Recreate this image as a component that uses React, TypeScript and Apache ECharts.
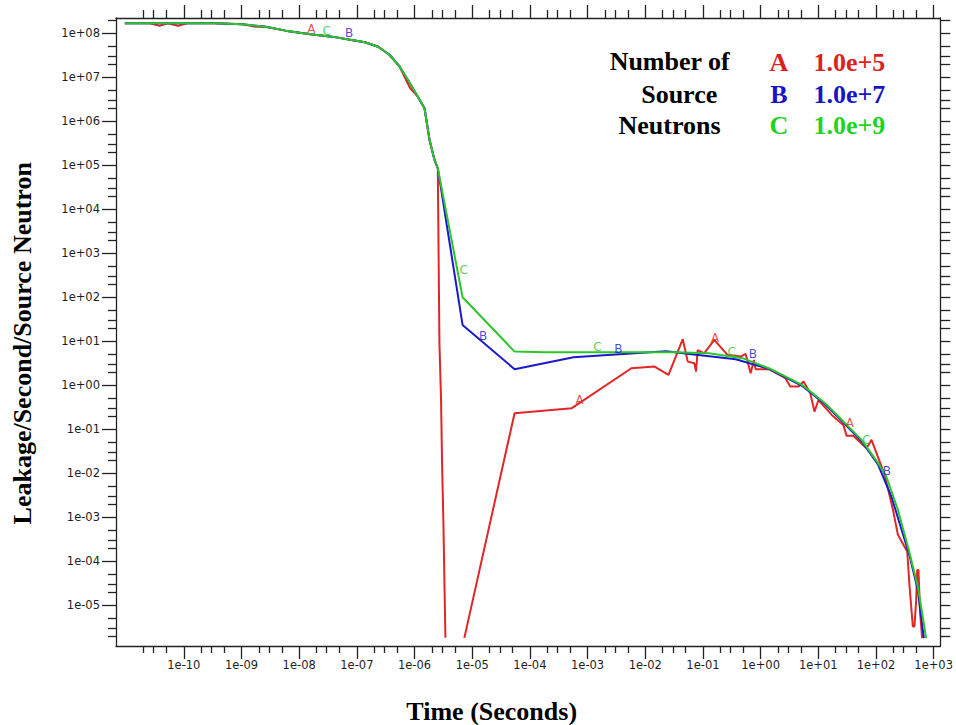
import React, { useEffect, useRef } from "react";
import * as echarts from "echarts";

// ---- axis ranges (log10 of the values) and ticks ----
const X_LOG_MIN = -11.176;
const X_LOG_MAX = 3.115;
const Y_LOG_MIN = -5.93;
const Y_LOG_MAX = 8.348;
const xMajorTicks = [-10, -9, -8, -7, -6, -5, -4, -3, -2, -1, 0, 1, 2, 3];
const yMajorTicks = [-5, -4, -3, -2, -1, 0, 1, 2, 3, 4, 5, 6, 7, 8];
const minorMultipliers = [2, 3, 5];

// ---- data: [time (s), leakage / s / source neutron]; null = gap ----
const curveA: ([number, number] | null)[] = [
  [9.5e-12, 1.69e8], [2.57e-11, 1.69e8], [3.82e-11, 1.49e8], [5.24e-11, 1.69e8],
  [7.88e-11, 1.49e8], [1.16e-10, 1.69e8], [3.38e-10, 1.69e8], [1.04e-9, 1.6e8],
  [1.77e-9, 1.41e8], [2.62e-9, 1.41e8], [5.8e-9, 1.15e8], [1.56e-8, 9.5e7],
  [3.68e-8, 8.4e7], [8.13e-8, 7.05e7], [1.38e-7, 6.24e7], [2.34e-7, 4.95e7],
  [3.72e-7, 3.21e7], [5.53e-7, 1.74e7], [8.34e-7, 5.71e6], [1.14e-6, 3.62e6],
  [1.49e-6, 1.97e6], [1.82e-6, 3.76e5], [2.22e-6, 1.32e5], [2.53e-6, 8.55e4],
  [2.58e-6, 5.1e3], [2.7e-6, 9.1], [2.88e-6, 0.46], [3.0e-6, 0.017],
  [3.17e-6, 6.7e-4], [3.3e-6, 2.9e-5], [3.43e-6, 1.8e-6], null,
  [7.3e-6, 1.8e-6], [5.42e-5, 0.231], [5.33e-4, 0.3], [5.75e-3, 2.43],
  [0.0145, 2.65], [0.0253, 1.71], [0.0447, 11.1], [0.0545, 3.43],
  [0.0708, 3.16], [0.0759, 2.04], [0.081, 6.3], [0.105, 5.3],
  [0.157, 10.7], [0.266, 4.9], [0.451, 4.47], [0.55, 5.14],
  [0.671, 1.87], [0.766, 3.76], [0.818, 2.31], [1.39, 2.31],
  [2.69, 1.44], [3.27, 0.93], [4.55, 0.93], [5.55, 1.21],
  [7.24, 0.66], [8.59, 0.251], [10.07, 0.46], [17.1, 0.211],
  [27.1, 0.125], [31, 0.0705], [40.3, 0.0705], [68.5, 0.037],
  [83.6, 0.0571], [141.6, 9.14e-3], [197, 1.47e-3], [240, 3.96e-4],
  [348, 1.65e-4], [382, 2.65e-5], [435, 3.27e-6], [464, 3.27e-6],
  [498, 1.32e-5], [518, 6.3e-5], [545, 6.3e-5], [583, 6.6e-6], [631, 1.78e-6],
];

const curveB: [number, number][] = [
  [9.5e-12, 1.69e8], [3.38e-10, 1.69e8], [1.04e-9, 1.6e8], [2.62e-9, 1.41e8],
  [5.8e-9, 1.15e8], [1.56e-8, 9.5e7], [3.68e-8, 8.4e7], [8.13e-8, 7.05e7],
  [1.38e-7, 6.24e7], [2.34e-7, 4.95e7], [3.72e-7, 3.21e7], [5.53e-7, 1.74e7],
  [7.69e-7, 8.69e6], [1.14e-6, 3.62e6], [1.49e-6, 1.97e6], [1.82e-6, 3.76e5],
  [2.22e-6, 1.32e5], [2.53e-6, 8.55e4], [6.8e-6, 23.4], [5.42e-5, 2.31],
  [5.7e-4, 4.33], [4.14e-3, 5.14], [0.0231, 5.93], [0.0759, 4.89],
  [0.37, 3.9], [1.39, 2.35], [5.21, 0.97], [13.1, 0.37],
  [25.5, 0.155], [56.2, 0.053], [109, 0.0155], [185, 2.94e-3],
  [382, 1.32e-4], [530, 2.23e-5], [676, 1.78e-6],
];

const curveC: [number, number][] = [
  [9.5e-12, 1.69e8], [3.38e-10, 1.69e8], [1.04e-9, 1.6e8], [2.62e-9, 1.41e8],
  [5.8e-9, 1.15e8], [1.56e-8, 9.5e7], [3.68e-8, 8.4e7], [8.13e-8, 7.05e7],
  [1.38e-7, 6.24e7], [2.34e-7, 4.95e7], [3.72e-7, 3.21e7], [5.53e-7, 1.74e7],
  [7.69e-7, 8.69e6], [1.14e-6, 3.62e6], [1.49e-6, 1.97e6], [1.82e-6, 3.76e5],
  [2.22e-6, 1.32e5], [2.53e-6, 8.55e4], [6.8e-6, 100], [5.42e-5, 5.8],
  [1.74e-4, 5.62], [0.0343, 5.62], [0.128, 5.33], [0.483, 4.11],
  [1.39, 2.43], [5.21, 1.02], [13.1, 0.39], [25.5, 0.163],
  [56.2, 0.057], [109, 0.0169], [151, 8.4e-3], [240, 1.47e-3],
  [382, 1.52e-4], [530, 2.65e-5], [646, 5.5e-6], [739, 1.78e-6],
];

// letter markers placed on the curves
const markersA: [number, number][] = [[1.63e-8, 1.23e8], [7.24e-4, 0.463], [0.163, 11.7], [35.3, 0.141]];
const markersB: [number, number][] = [[7.33e-8, 1.0e8], [1.55e-5, 13.2], [3.4e-3, 6.6], [0.734, 5.07], [155, 0.0109]];
const markersC: [number, number][] = [[3.0e-8, 1.13e8], [7.08e-6, 417], [1.48e-3, 7.3], [0.315, 5.8], [68.6, 0.0571]];

const legendTitle = ["Number of", "Source", "Neutrons"];
const legendLetters = ["A", "B", "C"];
const legendCounts = ["1.0e+5", "1.0e+7", "1.0e+9"];

const xTitle = "Time (Seconds)";
const yTitle = "Leakage/Second/Source Neutron";

const RED = "#e02626";
const BLUE = "#1a1acc";
const GREEN = "#2ec42e";
const LEGEND_COLORS = ["#dd1f1f", "#1515c8", "#1fd41f"];

const toLog = (pts: ([number, number] | null)[]) =>
  pts.map((p) => (p ? [Math.log10(p[0]), Math.log10(p[1])] : ["-", "-"]));

const minorTicks = (lo: number, hi: number) => {
  const out: number[] = [];
  for (let k = Math.floor(lo) - 1; k <= Math.ceil(hi); k++) {
    for (const m of minorMultipliers) {
      const v = k + Math.log10(m);
      if (v > lo && v < hi) out.push(v);
    }
  }
  return out;
};

const fmtPow = (v: number) => {
  const n = Math.round(v);
  const s = String(Math.abs(n)).padStart(2, "0");
  return "1e" + (n < 0 ? "-" : "+") + s;
};

export default function App() {
  const ref = useRef<HTMLDivElement>(null);

  useEffect(() => {
    document.body.style.margin = "0";
    if (!ref.current) return;
    const chart = echarts.init(ref.current, undefined, { renderer: "svg" });

    const axisColor = "#222";
    const lineStyle = { color: axisColor, width: 1.3 };
    const xMinor = minorTicks(X_LOG_MIN, X_LOG_MAX);
    const yMinor = minorTicks(Y_LOG_MIN, Y_LOG_MAX);
    const xMajor = xMajorTicks.filter((v) => v >= X_LOG_MIN && v <= X_LOG_MAX);
    const yMajor = yMajorTicks.filter((v) => v >= Y_LOG_MIN && v <= Y_LOG_MAX);

    const labelFont = {
      fontFamily: "DejaVu Sans",
      fontSize: 11.5,
      color: "#1e1e1e",
    };

    const baseX = {
      type: "value",
      min: X_LOG_MIN,
      max: X_LOG_MAX,
      splitLine: { show: false },
    };
    const baseY = {
      type: "value",
      min: Y_LOG_MIN,
      max: Y_LOG_MAX,
      splitLine: { show: false },
    };

    const mkAxis = (
      base: any,
      position: string,
      showLine: boolean,
      ticks: number[],
      len: number,
      labels: boolean,
      margin: number
    ) => ({
      ...base,
      position,
      axisLine: { show: showLine, onZero: false, lineStyle },
      axisTick: { show: true, inside: false, length: len, customValues: ticks, lineStyle },
      axisLabel: labels
        ? { show: true, customValues: ticks, formatter: (v: number) => fmtPow(v), margin, ...labelFont }
        : { show: false },
    });

    const markerSeries = (pts: [number, number][], letter: string, color: string) => ({
      type: "scatter",
      xAxisIndex: 0,
      yAxisIndex: 0,
      silent: true,
      symbolSize: 1,
      itemStyle: { color: "rgba(0,0,0,0)" },
      label: {
        show: true,
        position: "inside",
        formatter: letter,
        color,
        fontFamily: "DejaVu Sans",
        fontSize: 12,
      },
      data: toLog(pts),
      z: 5,
    });

    const lineSeries = (pts: any, color: string) => ({
      type: "line",
      xAxisIndex: 0,
      yAxisIndex: 0,
      data: toLog(pts),
      showSymbol: false,
      symbol: "none",
      connectNulls: false,
      silent: true,
      lineStyle: { color, width: 2 },
      clip: true,
    });

    const serif = "'Liberation Serif', 'Times New Roman', serif";
    const graphic: any[] = [
      {
        type: "text",
        x: 491.7,
        y: 711,
        style: {
          text: xTitle,
          font: `bold 26px ${serif}`,
          fill: "#000",
          align: "center",
          verticalAlign: "middle",
          textAlign: "center",
          textVerticalAlign: "middle",
        },
      },
      {
        type: "text",
        x: 22.5,
        y: 343.3,
        rotation: Math.PI / 2,
        style: {
          text: yTitle,
          font: `bold 26px ${serif}`,
          fill: "#000",
          align: "center",
          verticalAlign: "middle",
          textAlign: "center",
          textVerticalAlign: "middle",
        },
      },
    ];
    const titleX = [669.7, 679.2, 669.5];
    const rowY = [61.5, 94, 125];
    legendTitle.forEach((t, i) => {
      graphic.push({
        type: "text",
        x: titleX[i],
        y: rowY[i],
        style: {
          text: t,
          font: `bold 26px ${serif}`,
          fill: "#000",
          align: "center",
          verticalAlign: "middle",
          textAlign: "center",
          textVerticalAlign: "middle",
        },
      });
    });
    legendLetters.forEach((l, i) => {
      graphic.push({
        type: "text",
        x: 779,
        y: rowY[i] + 0.8,
        style: {
          text: l,
          font: `bold 26px ${serif}`,
          fill: LEGEND_COLORS[i],
          align: "center",
          verticalAlign: "middle",
          textAlign: "center",
          textVerticalAlign: "middle",
        },
      });
      graphic.push({
        type: "text",
        x: 813.5,
        y: rowY[i] + 0.8,
        style: {
          text: legendCounts[i],
          font: `bold 26px ${serif}`,
          fill: LEGEND_COLORS[i],
          align: "left",
          verticalAlign: "middle",
          textAlign: "left",
          textVerticalAlign: "middle",
        },
      });
    });

    chart.setOption({
      animation: false,
      backgroundColor: "#fff",
      grid: { left: 116, right: 10, top: 18, bottom: 79, containLabel: false },
      xAxis: [
        mkAxis(baseX, "bottom", true, xMajor, 13, true, 13),
        mkAxis(baseX, "bottom", false, xMinor, 7, false, 0),
        mkAxis(baseX, "top", true, xMajor, 13, false, 0),
        mkAxis(baseX, "top", false, xMinor, 8, false, 0),
      ],
      yAxis: [
        mkAxis(baseY, "left", true, yMajor, 14, true, 16),
        mkAxis(baseY, "left", false, yMinor, 8, false, 0),
        mkAxis(baseY, "right", true, yMajor, 10, false, 0),
        mkAxis(baseY, "right", false, yMinor, 10, false, 0),
      ],
      series: [
        lineSeries(curveA, RED),
        lineSeries(curveB, BLUE),
        lineSeries(curveC, GREEN),
        markerSeries(markersA, "A", RED),
        markerSeries(markersB, "B", BLUE),
        markerSeries(markersC, "C", GREEN),
      ],
      graphic,
    });

    return () => {
      chart.dispose();
    };
  }, []);

  return <div ref={ref} style={{ width: 956, height: 725 }} />;
}
